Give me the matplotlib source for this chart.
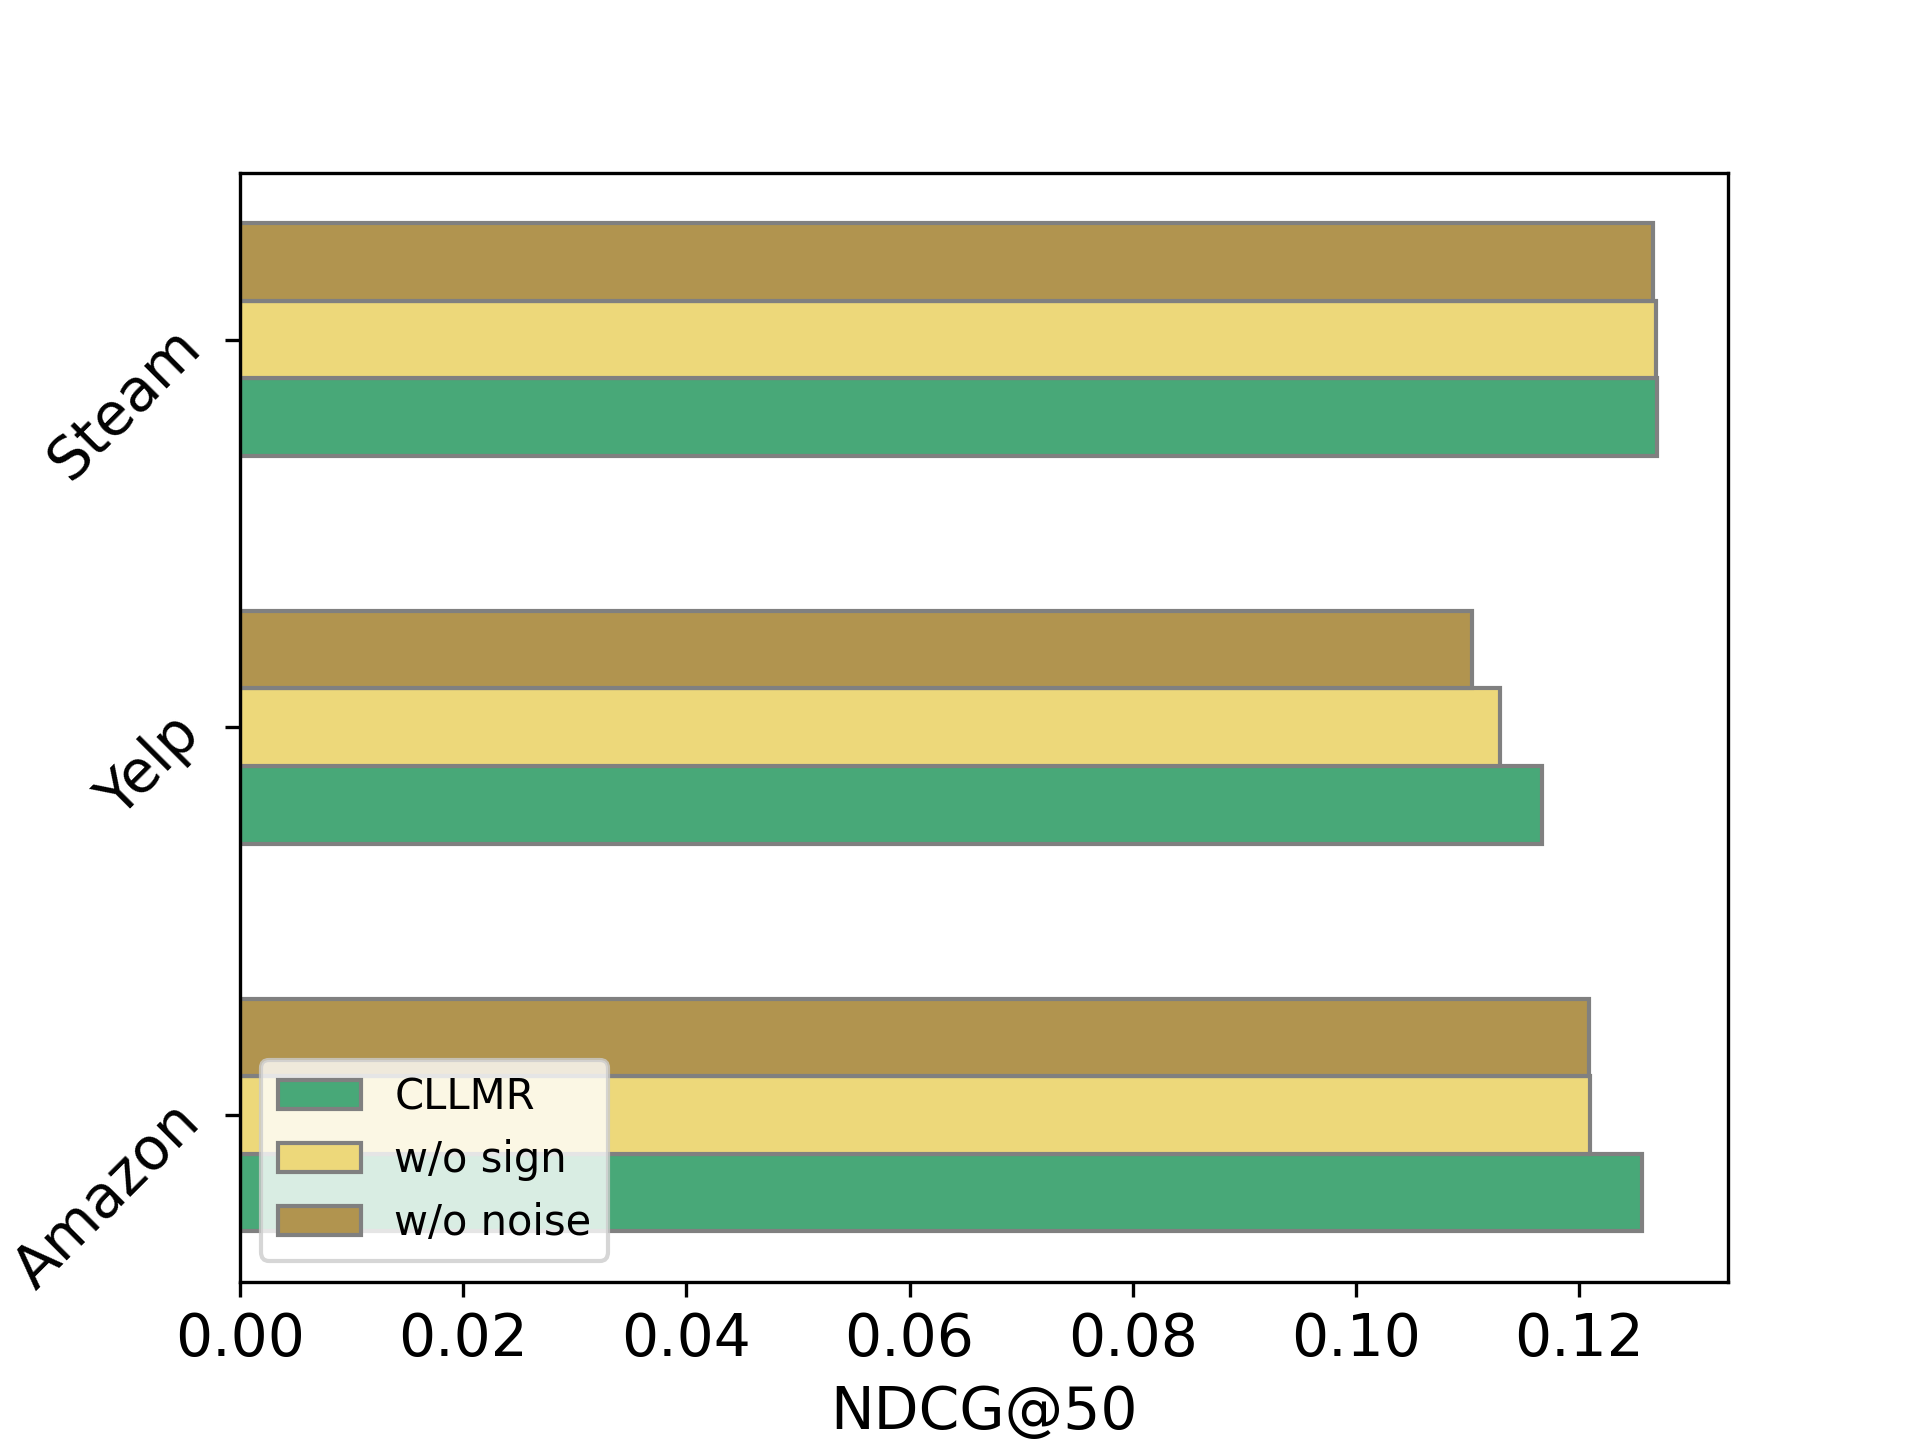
import matplotlib
matplotlib.use("Agg")
import matplotlib.pyplot as plt
import numpy as np

# NDCG@50 per dataset
datasets = ["Amazon", "Yelp", "Steam"]
cllmr = [0.1256, 0.1167, 0.1270]
wo_sign = [0.1210, 0.1129, 0.1269]
wo_noise = [0.1209, 0.1104, 0.1266]

series = [("CLLMR", cllmr, "#48a878"),
          ("w/o sign", wo_sign, "#edd87a"),
          ("w/o noise", wo_noise, "#b1944f")]


def main():
    fig, ax = plt.subplots(figsize=(6.4, 4.8), dpi=300)

    y = np.arange(len(datasets))
    height = 0.2

    # one bar per variant, stacked top to bottom inside each group
    for i, (name, vals, color) in enumerate(series):
        ax.barh(y + (i - 1) * height, vals, height=height, color=color,
                edgecolor="gray", linewidth=1, label=name)

    ax.set_yticks(y)
    ax.set_yticklabels(datasets, fontsize=14, rotation=45)
    ax.tick_params(axis="x", labelsize=14)
    ax.set_xlabel("NDCG@50", fontsize=14)

    ax.legend(loc="lower left", fontsize=10)

    fig.savefig("out.png", dpi=300)


if __name__ == "__main__":
    main()
